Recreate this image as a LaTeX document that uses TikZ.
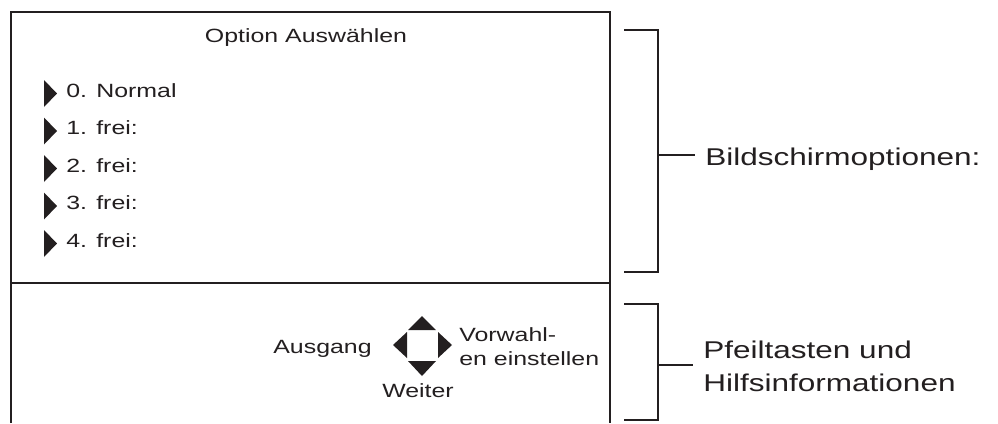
\documentclass[tikz,border=0pt]{standalone}
\usepackage{fontspec}
\setmainfont{Liberation Sans}[FakeStretch=1.3]
\definecolor{ink}{RGB}{35,31,32}

\begin{document}
\begin{tikzpicture}[x=0.02cm, y=-0.02cm,
        screentext/.style={inner sep=0pt, text=ink, font=\fontsize{10.9}{13.7}\selectfont, align=left},
        bracetext/.style={inner ysep=0pt, inner xsep=0.2cm, text=ink, font=\fontsize{13.8}{18.8}\selectfont, align=left},
        frame/.style={draw=ink, line width=1.1pt},
        brace/.style={draw=ink, line width=0.85pt}]
        \useasboundingbox (0,0) rectangle (998,423);

        % Corners of the screen
        \coordinate (TL) at (11,12);
        \coordinate (TR) at (610,12);
        \coordinate (ML) at (11,283);
        \coordinate (MR) at (610,283);
        \coordinate (BL) at (11,423);
        \coordinate (BR) at (610,423);

        % Draw the screen
        \draw[frame] (BL) -- (TL) -- (TR) -- (BR);
        \draw[frame] (ML) -- (MR);

        % Title and options
        \node[screentext, anchor=base] (title) at (306,42) {Option Auswählen};
        \node[screentext, anchor=base west] (opt0) at (66,97) {0. Normal};
        \node[screentext, anchor=base west] (opt1) at (66,134.5) {1. frei:};
        \node[screentext, anchor=base west] (opt2) at (66,172) {2. frei:};
        \node[screentext, anchor=base west] (opt3) at (66,209.5) {3. frei:};
        \node[screentext, anchor=base west] (opt4) at (66,247) {4. frei:};

        % Pointers in front of the options
        \fill[ink] (44,80) -- ++(13,13.5) -- ++(-13,13.5) -- cycle;
        \fill[ink] (44,117.5) -- ++(13,13.5) -- ++(-13,13.5) -- cycle;
        \fill[ink] (44,155) -- ++(13,13.5) -- ++(-13,13.5) -- cycle;
        \fill[ink] (44,192.5) -- ++(13,13.5) -- ++(-13,13.5) -- cycle;
        \fill[ink] (44,230) -- ++(13,13.5) -- ++(-13,13.5) -- cycle;

        % Arrow keys
        \coordinate (pad) at (422,345);
        \fill[ink] (408,330) -- (422,316) -- (436,330) -- cycle;
        \fill[ink] (408,361) -- (422,376) -- (436,361) -- cycle;
        \fill[ink] (407,332) -- (393,345) -- (407,358) -- cycle;
        \fill[ink] (438,332) -- (452,345) -- (438,358) -- cycle;

        \node[screentext, anchor=base east] (exit) at (372,353) {Ausgang};
        \node[screentext, anchor=north west] (preset) at (459,327) {Vorwahl-\\en einstellen};
        \node[screentext, anchor=base] (next) at (418,397) {Weiter};

        % Brackets on the right
        \coordinate (B1top) at (624,30);
        \coordinate (B1topr) at (658,30);
        \coordinate (B1bot) at (624,272);
        \coordinate (B1botr) at (658,272);
        \coordinate (B1mid) at (658,155);
        \draw[brace] (B1top) -- (B1topr) -- (B1botr) -- (B1bot);

        \coordinate (B2top) at (624,304);
        \coordinate (B2topr) at (658,304);
        \coordinate (B2bot) at (624,420);
        \coordinate (B2botr) at (658,420);
        \coordinate (B2mid) at (658,365);
        \draw[brace] (B2top) -- (B2topr) -- (B2botr) -- (B2bot);

        % Label the brackets
        \node[bracetext, anchor=base west] (screenopts) at (695,165) {Bildschirmoptionen:};
        \node[bracetext, anchor=north west] (helpinfo) at (693,341) {Pfeiltasten und\\Hilfsinformationen};
        \draw[brace] (B1mid) -- (B1mid -| screenopts.west);
        \draw[brace] (B2mid) -- (B2mid -| helpinfo.west);
    \end{tikzpicture}
\end{document}
